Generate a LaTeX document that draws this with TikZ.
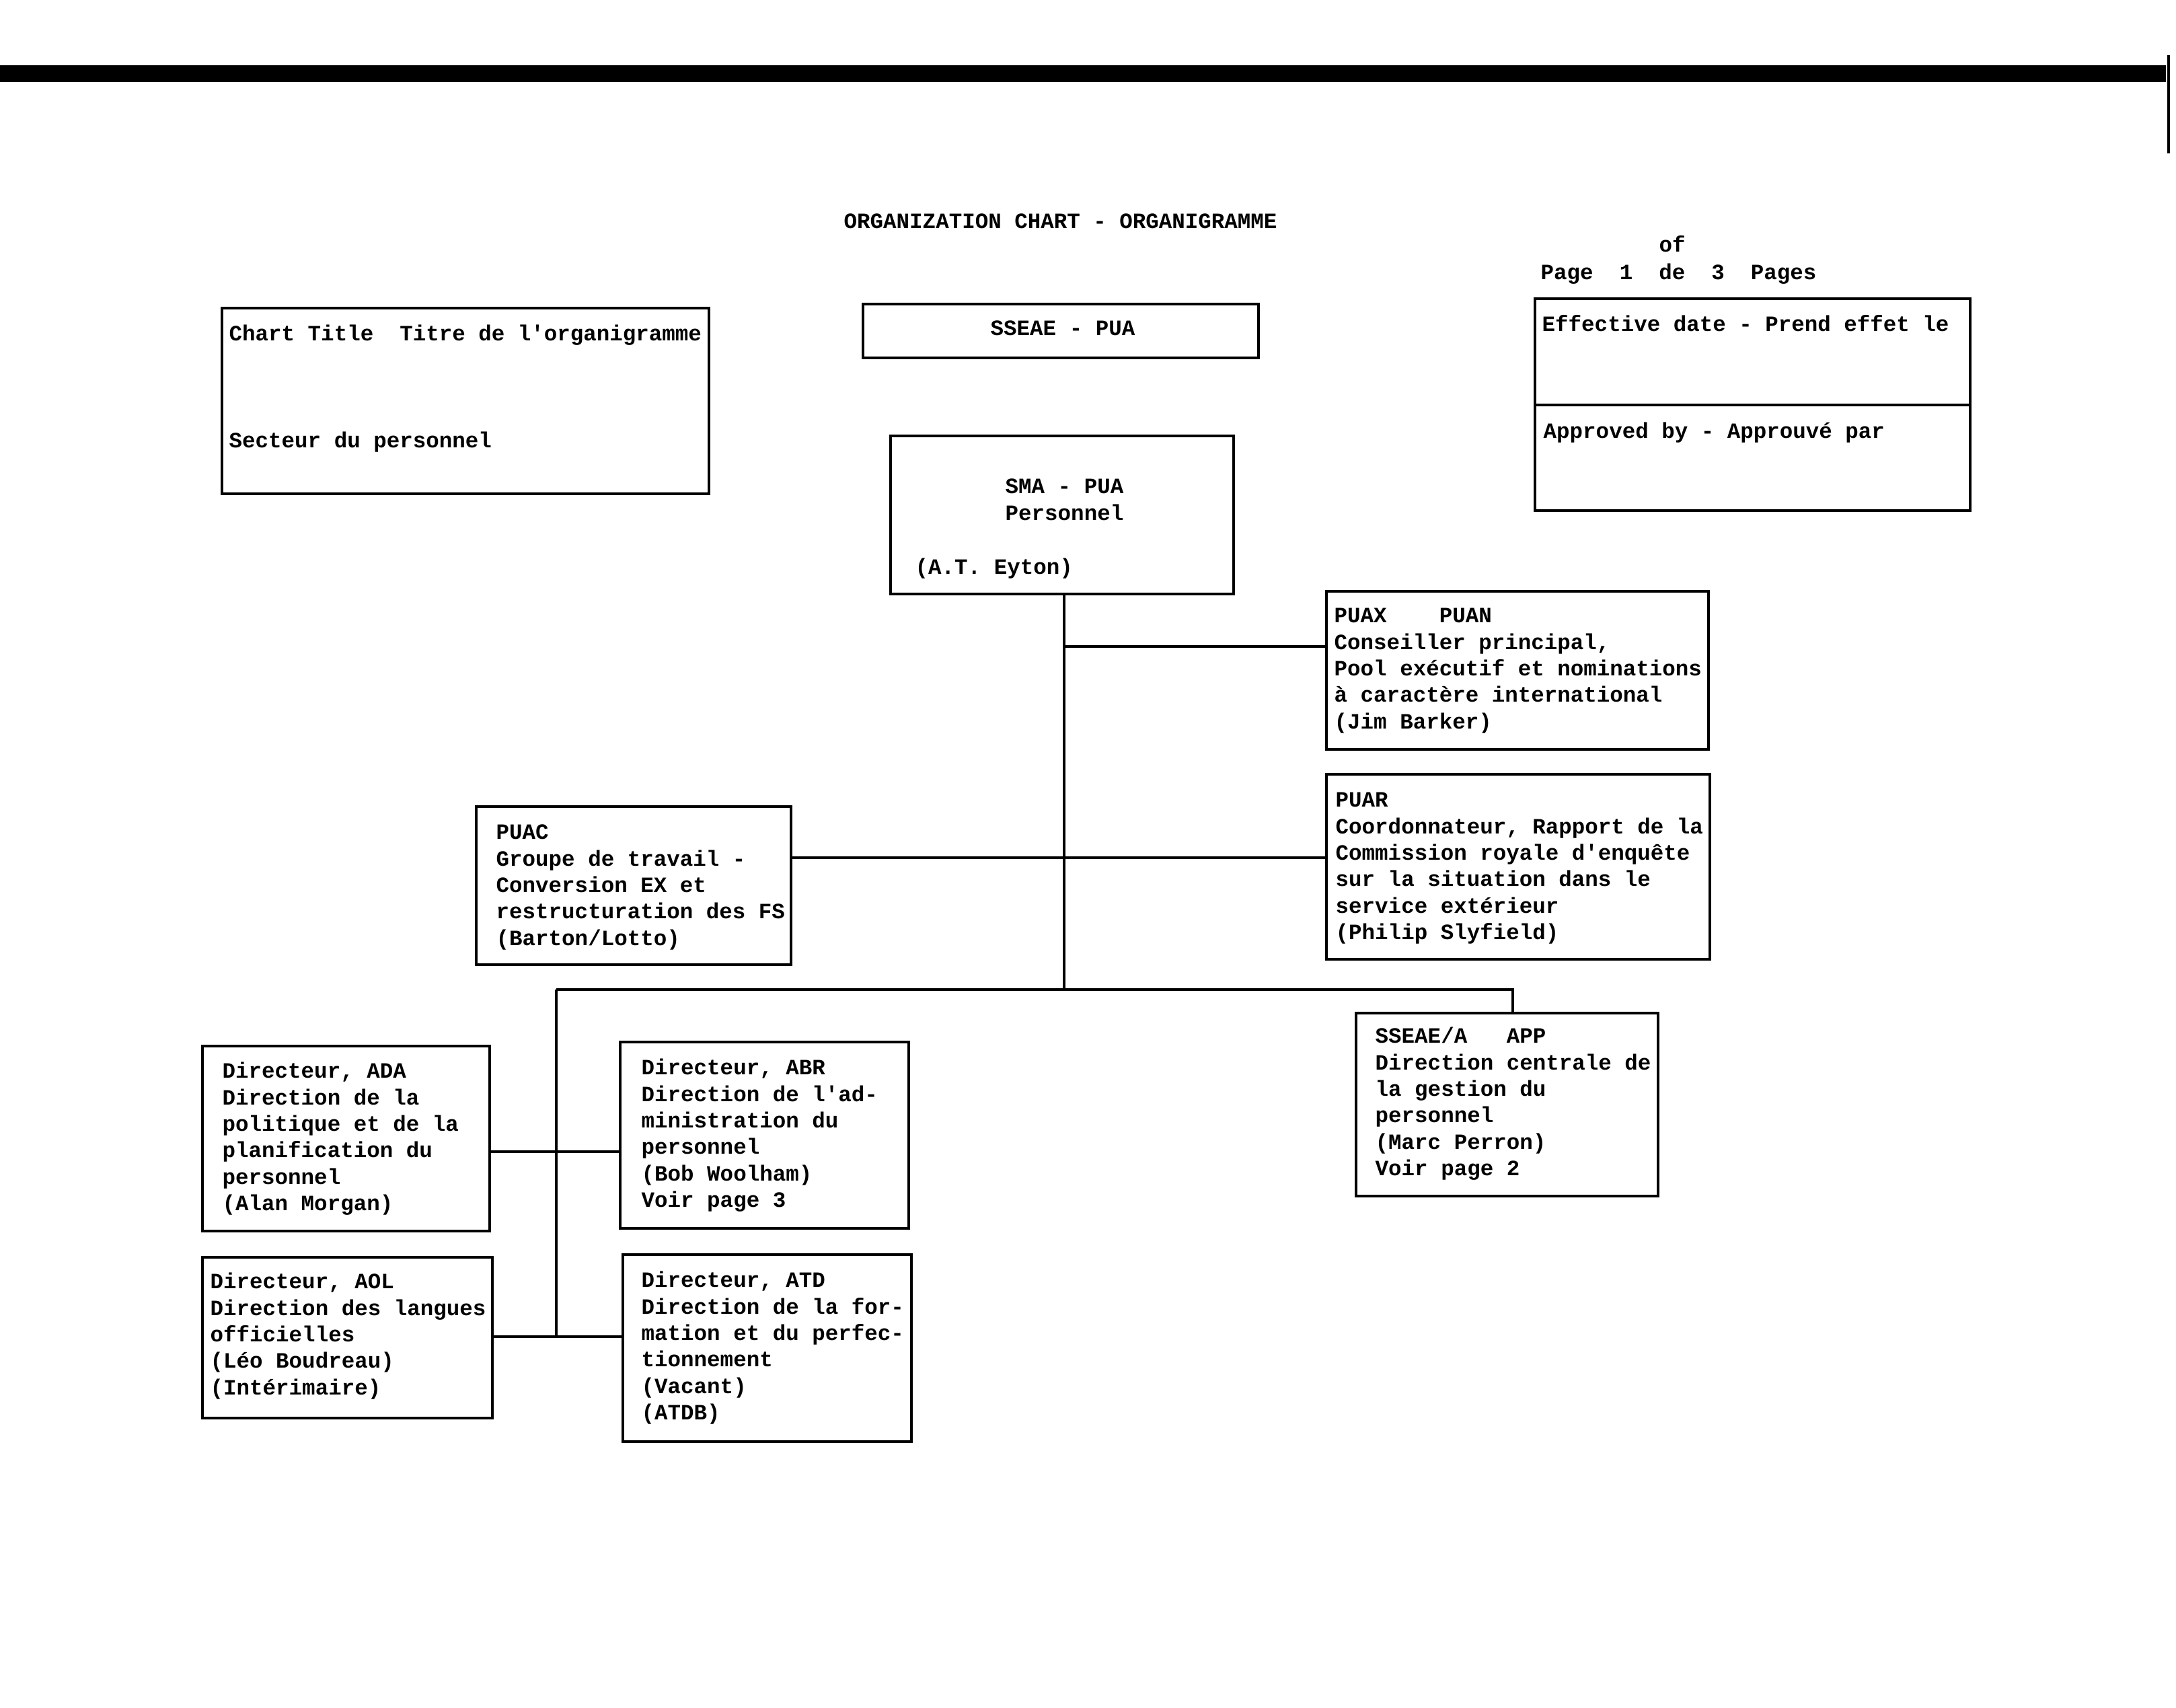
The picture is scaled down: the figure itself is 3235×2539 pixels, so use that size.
\documentclass[tikz,border=0pt]{standalone}
\usepackage{fontspec}
\newfontfamily\tw[WordSpace={1,0,0}]{Liberation Mono}
\usetikzlibrary{fit}
\begin{document}
\begin{tikzpicture}[x=0.1mm,y=-0.1mm,
  box/.style={draw,line width=1.2pt,inner sep=0pt},
  conn/.style={line width=0.9pt},
  txt/.style={anchor=north west,inner sep=0pt,align=left,yshift=-0.25mm,
    font={\tw\bfseries\fontsize{9.25}{11.2}\selectfont}}]
\useasboundingbox (0,0) rectangle (3235,2539);
% top rule
\fill (0,97) rectangle (3220,122);
\draw[line width=1.2pt] (3224,82) -- (3224,228);
% title and page
\node[txt] (title) at (1254,309) {\strut ORGANIZATION CHART - ORGANIGRAMME};
\node[txt] (of) at (2466,344) {\strut of};
\node[txt] (page) at (2290,385) {\strut Page~~1~~de~~3~~Pages};
% boxes
\node[box,fit={(330,458) (1054,734)}] (ct) {};
\node[box,fit={(1283,452) (1871,532)}] (sseae) {};
\node[box,fit={(2282,444) (2929,759)}] (eff) {};
\draw[line width=1.2pt] (eff.west |- 0,602) -- (eff.east |- 0,602);
\node[box,fit={(1324,648) (1834,883)}] (sma) {};
\node[box,fit={(1972,879) (2540,1114)}] (puax) {};
\node[box,fit={(1972,1151) (2542,1426)}] (puar) {};
\node[box,fit={(708,1199) (1176,1434)}] (puac) {};
\node[box,fit={(2016,1506) (2465,1778)}] (sseaea) {};
\node[box,fit={(301,1555) (728,1830)}] (ada) {};
\node[box,fit={(922,1549) (1351,1826)}] (abr) {};
\node[box,fit={(301,1869) (732,2108)}] (aol) {};
\node[box,fit={(926,1865) (1355,2143)}] (atd) {};
% texts
\node[txt] (ct1) at (340,476) {\strut Chart Title~~Titre de l'organigramme};
\node[txt] (ct2) at (340,635) {\strut Secteur du personnel};
\node[txt] (sseaet) at (1472,468) {\strut SSEAE - PUA};
\node[txt] (efft) at (2292,462) {\strut Effective date - Prend effet le};
\node[txt] (apprt) at (2294,621) {\strut Approved by - Approuvé par};
\node[txt] (smat) at (1494,703) {\strut SMA - PUA\\Personnel};
\node[txt] (eyton) at (1360,823) {\strut (A.T. Eyton)};
\node[txt] (puaxt) at (1983,895) {\strut PUAX~~~~PUAN\\Conseiller principal,\\Pool exécutif et nominations\\à caractère international\\(Jim Barker)};
\node[txt] (puart) at (1985,1169) {\strut PUAR\\Coordonnateur, Rapport de la\\Commission royale d'enquête\\sur la situation dans le\\service extérieur\\(Philip Slyfield)};
\node[txt] (puact) at (737,1217) {\strut PUAC\\Groupe de travail -\\Conversion EX et\\restructuration des FS\\(Barton/Lotto)};
\node[txt] (sseaeat) at (2044,1520) {\strut SSEAE/A~~~APP\\Direction centrale de\\la gestion du\\personnel\\(Marc Perron)\\Voir page 2};
\node[txt] (adat) at (330,1572) {\strut Directeur, ADA\\Direction de la\\politique et de la\\planification du\\personnel\\(Alan Morgan)};
\node[txt] (abrt) at (953,1567) {\strut Directeur, ABR\\Direction de l'ad-\\ministration du\\personnel\\(Bob Woolham)\\Voir page 3};
\node[txt] (aolt) at (312,1885) {\strut Directeur, AOL\\Direction des langues\\officielles\\(Léo Boudreau)\\(Intérimaire)};
\node[txt] (atdt) at (953,1883) {\strut Directeur, ATD\\Direction de la for-\\mation et du perfec-\\tionnement\\(Vacant)\\(ATDB)};
% connectors
\coordinate (jt) at (1582,1471);
\coordinate (jl) at (827,1471);
\coordinate (jr) at (2249,1471);
\coordinate (hx) at (1582,961);
\coordinate (hc) at (1582,1275);
\coordinate (ha) at (827,1712);
\coordinate (hb) at (827,1987);
\draw[conn] (sma.south -| jt) -- (jt);
\draw[conn] (hx) -- (hx -| puax.west);
\draw[conn] (hc -| puac.east) -- (hc -| puar.west);
\draw[conn] (jl) -- (jr) -- (jr |- sseaea.north);
\draw[conn] (jl) -- (hb);
\draw[conn] (ha -| ada.east) -- (ha -| abr.west);
\draw[conn] (hb -| aol.east) -- (hb -| atd.west);
\end{tikzpicture}
\end{document}
